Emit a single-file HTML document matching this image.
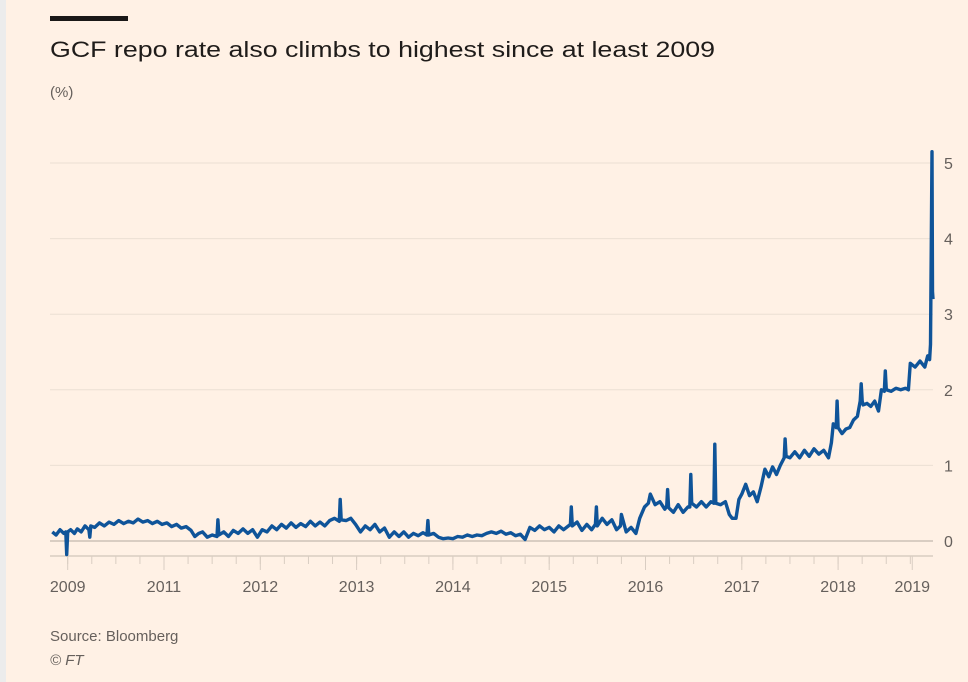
<!DOCTYPE html>
<html><head><meta charset="utf-8"><style>
html,body{margin:0;padding:0;background:#fff1e5;}
svg{display:block;font-family:"Liberation Sans",sans-serif;}
</style></head><body>
<svg id="chart" width="968" height="682" viewBox="0 0 968 682">
<rect x="0" y="0" width="968" height="682" fill="#fff1e5"/>
<rect x="0" y="0" width="6" height="682" fill="#ececec"/>
<rect x="50" y="16" width="78" height="5" fill="#1a1817"/>
<text x="50" y="57" font-size="22" fill="#1f1c1a" textLength="665" lengthAdjust="spacingAndGlyphs">GCF repo rate also climbs to highest since at least 2009</text>
<text x="50" y="97" font-size="15" fill="#66605c">(%)</text>
<g id="grid"></g>
<g id="xaxis"></g>
<g id="series"></g>
<text x="50" y="641" font-size="15" fill="#66605c">Source: Bloomberg</text>
<text x="50" y="665" font-size="15" font-style="italic" fill="#66605c">© FT</text>
</svg>
<script>
const yTicks=[0,1,2,3,4,5];
const xTickValues=[2010.0,2011.0,2012.0,2013.0,2014.0,2015.0,2016.0,2017.0,2018.0,2018.77];
const xTickLabels=["2009","2011","2012","2013","2014","2015","2016","2017","2018","2019"];
const dates=[
2009.84,2009.88,2009.92,2009.96,2009.98,2009.99,2010.0,2010.03,2010.07,2010.1,
2010.14,2010.18,2010.22,2010.23,2010.24,2010.28,2010.33,2010.38,2010.43,2010.48,
2010.53,2010.58,2010.63,2010.68,2010.73,2010.78,2010.83,2010.88,2010.93,2010.98,
2011.03,2011.08,2011.13,2011.18,2011.23,2011.28,2011.32,2011.36,2011.4,2011.45,
2011.5,2011.55,2011.56,2011.57,2011.62,2011.67,2011.72,2011.77,2011.82,2011.87,
2011.92,2011.97,2012.02,2012.07,2012.12,2012.17,2012.22,2012.27,2012.32,2012.37,
2012.42,2012.47,2012.52,2012.57,2012.62,2012.67,2012.72,2012.77,2012.82,2012.83,
2012.84,2012.89,2012.94,2012.99,2013.04,2013.09,2013.14,2013.19,2013.24,2013.29,
2013.34,2013.39,2013.44,2013.49,2013.54,2013.59,2013.64,2013.69,2013.73,2013.74,
2013.75,2013.8,2013.85,2013.9,2013.95,2014.0,2014.05,2014.1,2014.15,2014.2,
2014.25,2014.3,2014.35,2014.4,2014.45,2014.5,2014.55,2014.6,2014.65,2014.7,
2014.75,2014.8,2014.85,2014.9,2014.95,2015.0,2015.05,2015.1,2015.15,2015.22,
2015.23,2015.24,2015.29,2015.34,2015.39,2015.44,2015.48,2015.49,2015.5,2015.55,
2015.6,2015.65,2015.7,2015.74,2015.75,2015.8,2015.85,2015.9,2015.94,2015.99,
2016.03,2016.05,2016.1,2016.15,2016.2,2016.22,2016.23,2016.24,2016.29,2016.34,
2016.39,2016.44,2016.46,2016.47,2016.48,2016.53,2016.58,2016.63,2016.68,2016.71,
2016.72,2016.73,2016.78,2016.83,2016.87,2016.9,2016.94,2016.97,2017.0,2017.04,
2017.08,2017.12,2017.16,2017.2,2017.24,2017.28,2017.32,2017.36,2017.4,2017.44,
2017.45,2017.46,2017.5,2017.55,2017.6,2017.65,2017.7,2017.75,2017.8,2017.85,
2017.9,2017.93,2017.95,2017.98,2017.99,2018.0,2018.04,2018.08,2018.12,2018.16,
2018.2,2018.23,2018.24,2018.25,2018.26,2018.3,2018.34,2018.38,2018.42,2018.45,
2018.48,2018.49,2018.5,2018.55,2018.6,2018.65,2018.7,2018.73,2018.75,2018.8,
2018.85,2018.9,2018.93,2018.95,2018.96,2018.975,2018.98,2018.985];
const values=[
0.12,0.08,0.15,0.1,0.12,-0.18,0.12,0.15,0.1,0.16,
0.12,0.2,0.15,0.05,0.2,0.18,0.24,0.2,0.25,0.22,
0.27,0.23,0.26,0.24,0.29,0.25,0.27,0.23,0.26,0.22,
0.24,0.19,0.22,0.17,0.19,0.14,0.06,0.1,0.12,0.05,
0.08,0.06,0.28,0.08,0.12,0.06,0.14,0.1,0.16,0.1,
0.15,0.05,0.15,0.12,0.2,0.15,0.22,0.17,0.24,0.18,
0.23,0.19,0.26,0.2,0.25,0.2,0.27,0.3,0.26,0.55,
0.28,0.27,0.3,0.22,0.12,0.2,0.15,0.22,0.12,0.17,
0.05,0.12,0.06,0.12,0.05,0.1,0.07,0.11,0.08,0.27,
0.08,0.1,0.05,0.03,0.04,0.03,0.06,0.05,0.08,0.06,
0.08,0.07,0.1,0.12,0.1,0.13,0.09,0.11,0.07,0.09,
0.02,0.18,0.14,0.2,0.15,0.18,0.12,0.2,0.15,0.22,
0.45,0.2,0.25,0.14,0.22,0.15,0.22,0.45,0.2,0.3,
0.22,0.28,0.15,0.2,0.35,0.12,0.18,0.1,0.3,0.45,
0.5,0.62,0.48,0.52,0.42,0.46,0.68,0.44,0.38,0.48,
0.38,0.45,0.45,0.88,0.5,0.45,0.52,0.45,0.52,0.5,
1.28,0.5,0.48,0.52,0.35,0.3,0.3,0.55,0.62,0.75,
0.6,0.65,0.52,0.72,0.95,0.85,0.98,0.88,1.0,1.1,
1.35,1.12,1.1,1.18,1.1,1.2,1.12,1.22,1.15,1.2,
1.1,1.3,1.55,1.5,1.85,1.5,1.42,1.48,1.5,1.6,
1.65,1.85,2.08,1.85,1.8,1.82,1.78,1.85,1.72,2.0,
1.98,2.25,2.0,1.98,2.02,2.0,2.02,2.0,2.35,2.3,
2.38,2.3,2.45,2.4,2.6,5.15,3.3,3.2];
const NS='http://www.w3.org/2000/svg';
const plotL=50, plotR=933, y0=541, pxPerUnit=75.6;
function xScale(t){return 164+(t-2011)*96.3;}
function yScale(v){return y0-v*pxPerUnit;}
const grid=document.getElementById('grid');
yTicks.forEach(v=>{
  const l=document.createElementNS(NS,'line');
  l.setAttribute('x1',plotL);l.setAttribute('x2',plotR);
  l.setAttribute('y1',yScale(v));l.setAttribute('y2',yScale(v));
  l.setAttribute('stroke',v===0?'#d9cdc2':'#ebdfd4');l.setAttribute('stroke-width',v===0?2:1);
  
  
  grid.appendChild(l);
  const t=document.createElementNS(NS,'text');
  t.setAttribute('x',944);t.setAttribute('y',yScale(v)+6);
  t.setAttribute('font-size','16');t.setAttribute('fill','#66605c');
  t.textContent=v;
  
  
  grid.appendChild(t);
});
const xa=document.getElementById('xaxis');
const axis=document.createElementNS(NS,'line');
axis.setAttribute('x1',plotL);axis.setAttribute('x2',plotR);axis.setAttribute('y1',556);axis.setAttribute('y2',556);
axis.setAttribute('stroke','#d9cdc2');axis.setAttribute('stroke-width','1.5');


xa.appendChild(axis);
for(let q=2009.75;q<=2019.01;q+=0.25){
  const x=xScale(q);
  if(x<plotL||x>plotR+1)continue;
  const tk=document.createElementNS(NS,'line');
  tk.setAttribute('x1',x);tk.setAttribute('x2',x);tk.setAttribute('y1',556);tk.setAttribute('y2',564);
  tk.setAttribute('stroke','#d9cdc2');tk.setAttribute('stroke-width','1');
  
  
  xa.appendChild(tk);
}
xTickValues.forEach((v,i)=>{
  const x=xScale(v);
  const tk=document.createElementNS(NS,'line');
  tk.setAttribute('x1',x);tk.setAttribute('x2',x);tk.setAttribute('y1',556);tk.setAttribute('y2',570);
  tk.setAttribute('stroke','#d9cdc2');tk.setAttribute('stroke-width','1');
  
  
  xa.appendChild(tk);
  const t=document.createElementNS(NS,'text');
  t.setAttribute('x',x);t.setAttribute('y',592);t.setAttribute('text-anchor','middle');
  t.setAttribute('font-size','16');t.setAttribute('fill','#66605c');
  t.textContent=xTickLabels[i];
  
  
  xa.appendChild(t);
});
const n=Math.min(dates.length,values.length);
let d='';
for(let i=0;i<n;i++){d+=(i?'L':'M')+xScale(dates[i]).toFixed(1)+','+yScale(values[i]).toFixed(1);}
const p=document.createElementNS(NS,'path');
p.setAttribute('d',d);
p.setAttribute('fill','none');p.setAttribute('stroke','#0f5499');p.setAttribute('stroke-width','3.4');
p.setAttribute('stroke-linejoin','round');


document.getElementById('series').appendChild(p);
</script>
</body></html>
